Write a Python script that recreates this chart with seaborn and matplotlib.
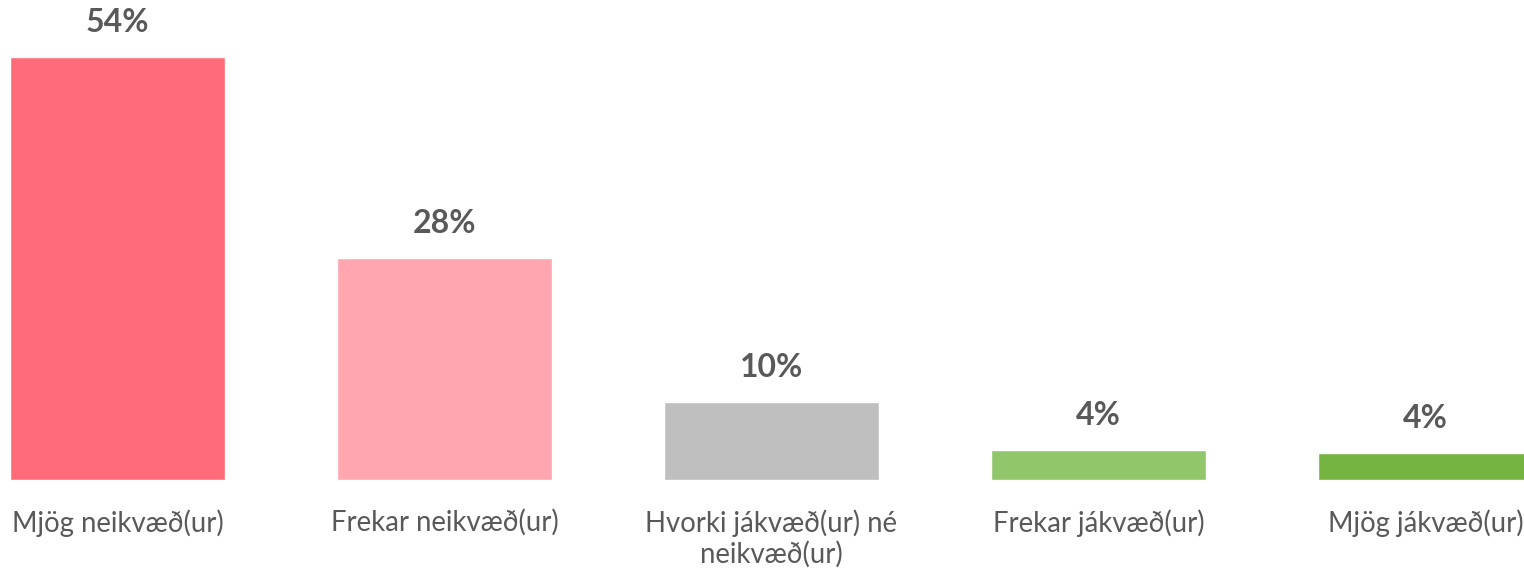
import matplotlib
matplotlib.use("Agg")
import matplotlib.pyplot as plt
import seaborn as sns
import pandas as pd

categories = ["Mjög neikvæð(ur)", "Frekar neikvæð(ur)", "Hvorki jákvæð(ur) né\nneikvæð(ur)",
              "Frekar jákvæð(ur)", "Mjög jákvæð(ur)"]
values = [54.0, 28.3, 9.9, 3.8, 3.4]
value_labels = ["54%", "28%", "10%", "4%", "4%"]
colors = ["#FF6B78", "#FFA6B0", "#BFBFBF", "#92C66A", "#76B442"]

sns.set_theme(style="white")
plt.rcParams["font.family"] = ["Lato", "DejaVu Sans"]

df = pd.DataFrame({"cat": categories, "val": values})

fig = plt.figure(figsize=(15.24, 5.68), dpi=100)
ax = fig.add_axes([0, 0.155, 1, 0.845])
sns.barplot(data=df, x="cat", y="val", hue="cat", palette=colors, legend=False,
            width=0.657, ax=ax, saturation=1)
ax.set_xlim(-0.359, 4.301)
ax.set_ylim(0, 61.3)
ax.set_xlabel("")
ax.set_ylabel("")
ax.set_yticks([])
ax.tick_params(axis="x", length=0, pad=21, labelsize=19.8, labelcolor="#595959")
for s in ax.spines.values():
    s.set_visible(False)
ax.set_xticks(range(len(categories)))
ax.set_xticklabels(categories, linespacing=1.2)

for i, (v, t) in enumerate(zip(values, value_labels)):
    ax.annotate(t, (i, v), xytext=(0, 25), textcoords="offset points", ha="center", va="center",
                fontsize=23, fontweight="bold", color="#595959")

fig.savefig("out.png", dpi=100)
